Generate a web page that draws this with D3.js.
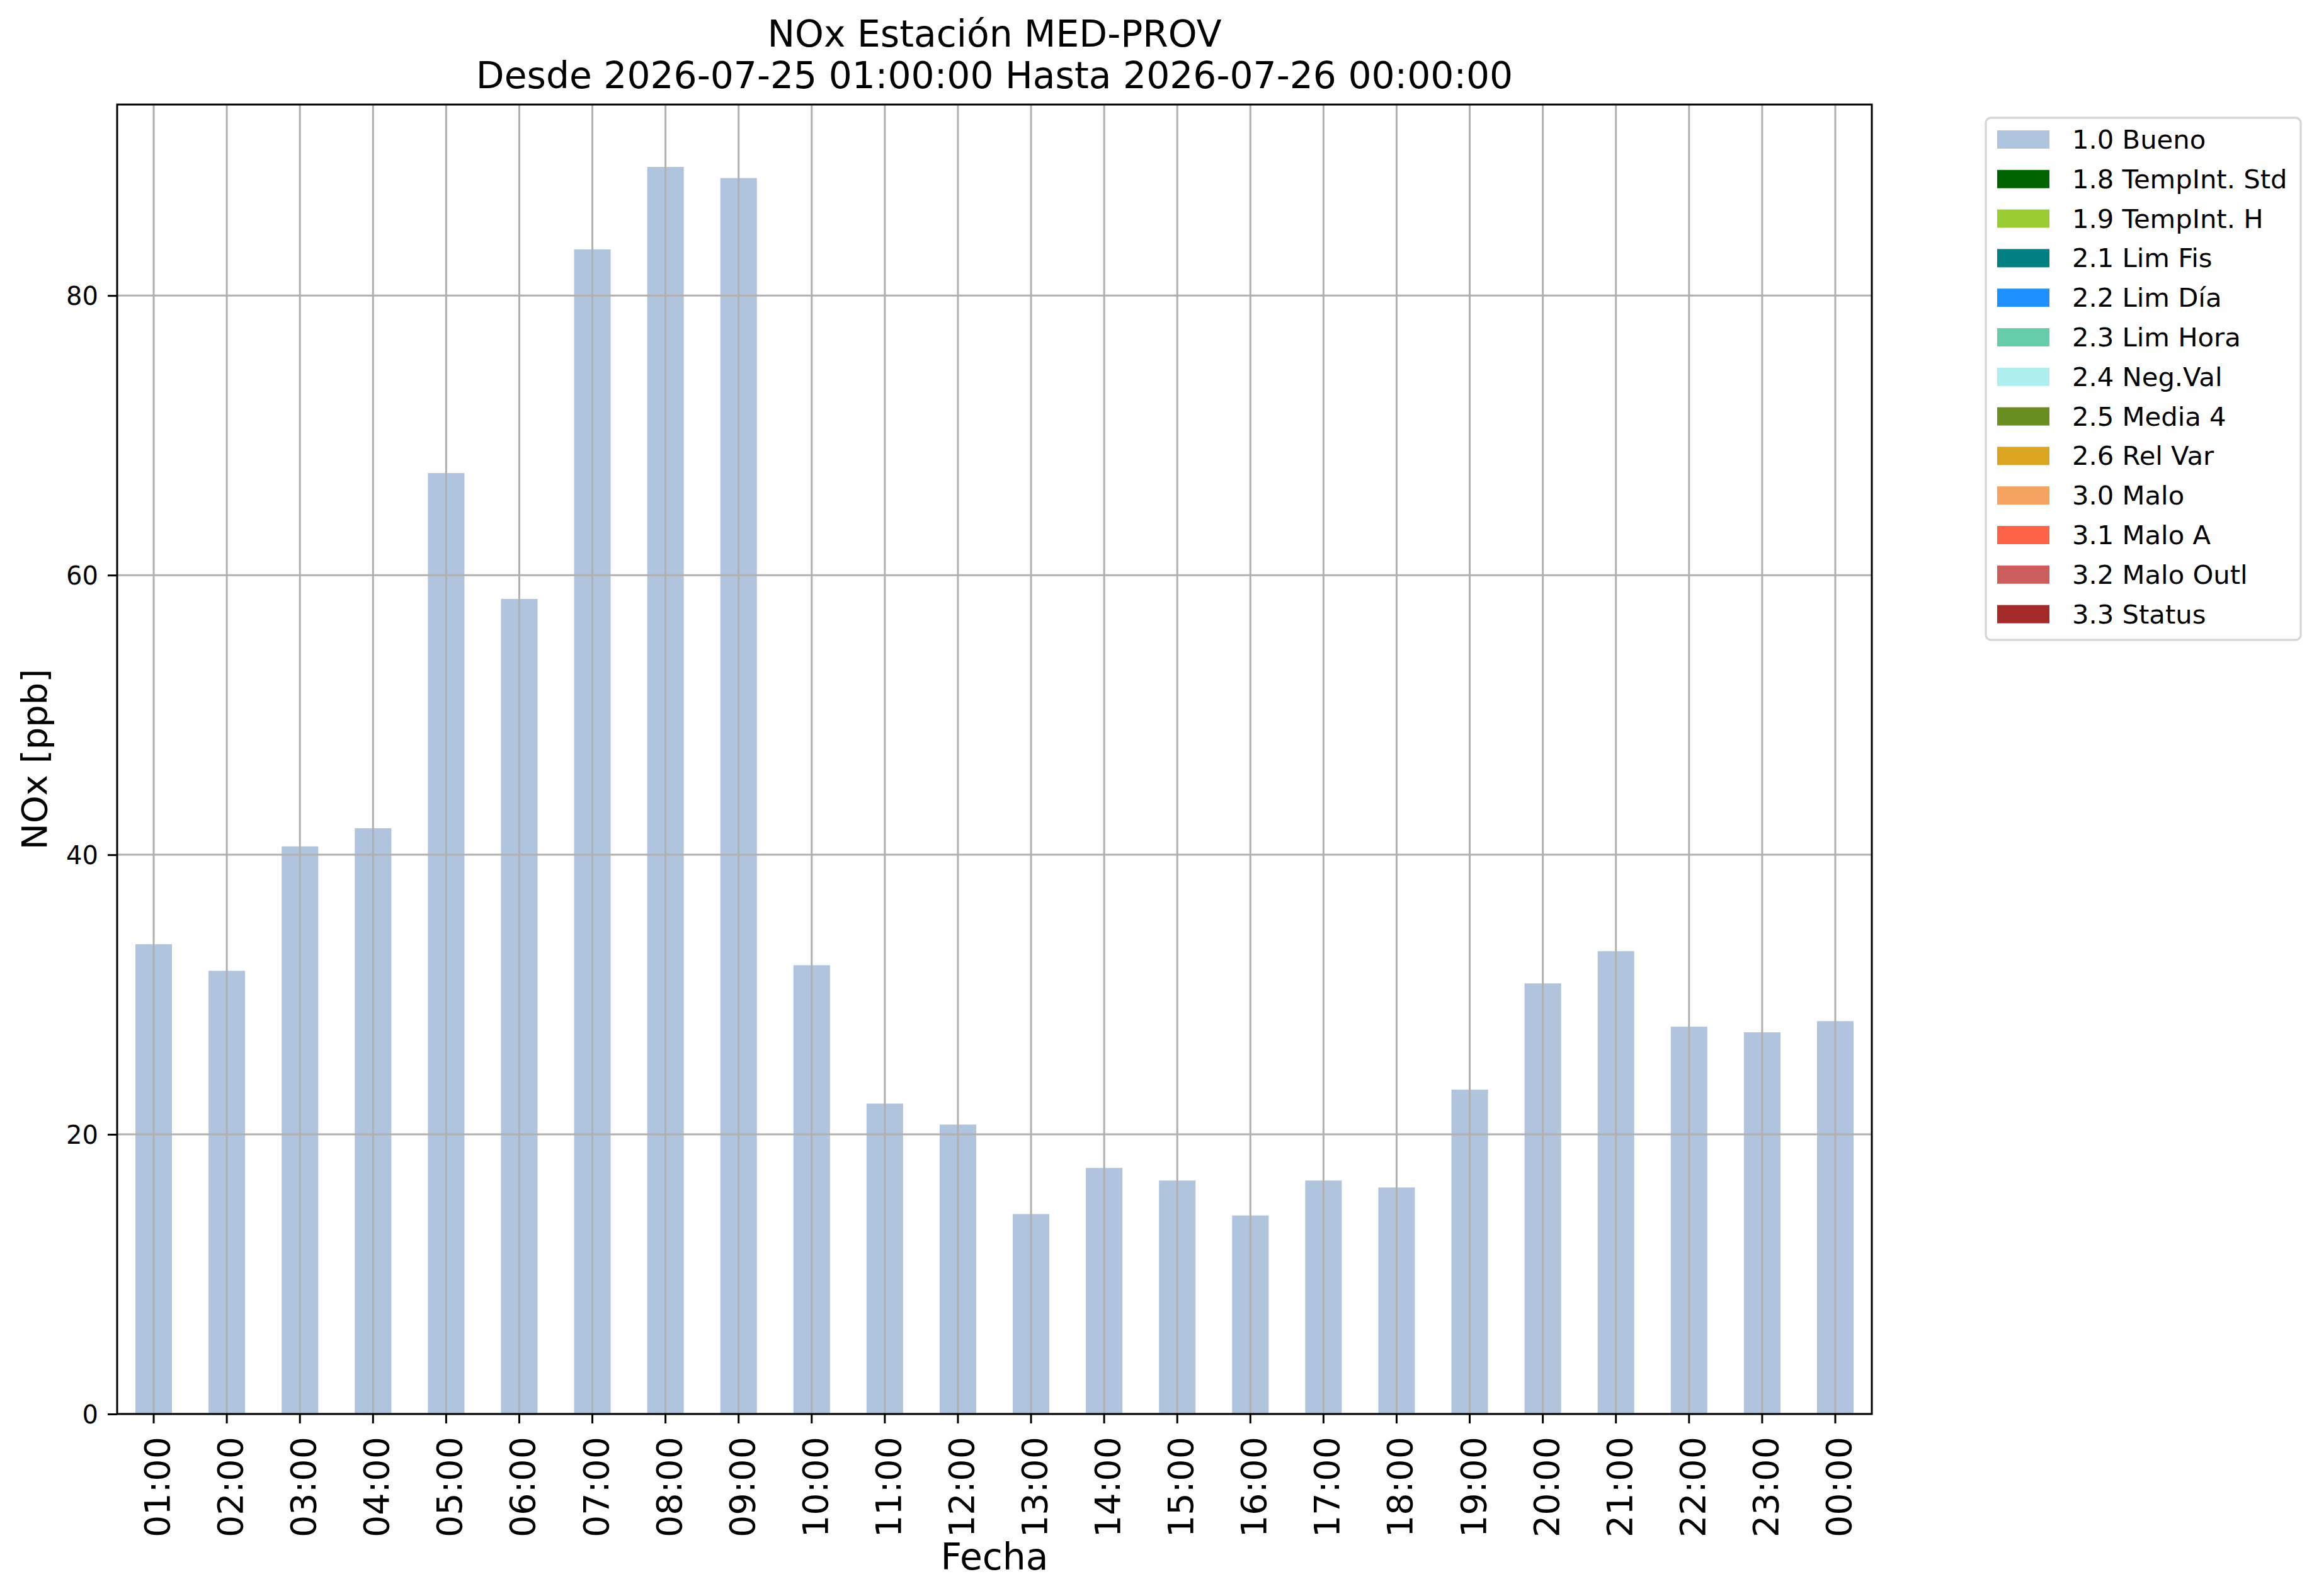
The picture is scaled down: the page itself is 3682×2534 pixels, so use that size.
<!DOCTYPE html>
<html>
<head>
<meta charset="utf-8">
<script src="https://cdn.jsdelivr.net/npm/d3@7"></script>
<style>
  body { margin: 0; background: #fff; }
  text { font-family: "DejaVu Sans", sans-serif; fill: #000; }
</style>
</head>
<body>
<svg id="chart"></svg>
<script>
// hourly NOx values, 2026-07-25 01:00 .. 2026-07-26 00:00
var horas = ["01:00","02:00","03:00","04:00","05:00","06:00","07:00","08:00","09:00","10:00","11:00","12:00",
             "13:00","14:00","15:00","16:00","17:00","18:00","19:00","20:00","21:00","22:00","23:00","00:00"]
var nox = [33.6, 31.7, 40.6, 41.9, 67.3, 58.3, 83.3, 89.2, 88.4, 32.1, 22.2, 20.7,
           14.3, 17.6, 16.7, 14.2, 16.7, 16.2, 23.2, 30.8, 33.1, 27.7, 27.3, 28.1]
var yTicks = [0, 20, 40, 60, 80]

var flagLabels = ["1.0 Bueno","1.8 TempInt. Std","1.9 TempInt. H","2.1 Lim Fis","2.2 Lim Día","2.3 Lim Hora",
                  "2.4 Neg.Val","2.5 Media 4","2.6 Rel Var","3.0 Malo","3.1 Malo A","3.2 Malo Outl","3.3 Status"]
var flagColors = ["#b0c4de","#006400","#9acd32","#008080","#1e90ff","#66cdaa",
                  "#afeeee","#6b8e23","#daa520","#f4a460","#ff6347","#cd5c5c","#a52a2a"]

var W = 3682, H = 2534
var big = 58.3, small = 41.7
var dimensions = {
    margin: { top: 166, bottom: 289, left: 186, right: 710 }
}
var x0 = dimensions.margin.left, x1 = W - dimensions.margin.right
var y0 = H - dimensions.margin.bottom, y1 = dimensions.margin.top

var svg = d3.select("#chart")
    .attr("width", W)
    .attr("height", H)

svg.append("rect").attr("width", W).attr("height", H).attr("fill", "#fff")

var x = d3.scaleBand()
    .domain(horas)
    .range([x0, x1])
    .paddingInner(0.5)
    .paddingOuter(0.25)

var y = d3.scaleLinear()
    .domain([0, d3.max(nox) * 1.05])
    .range([y0, y1])

// bars
svg.append("g")
    .selectAll("rect")
    .data(nox)
    .enter()
    .append("rect")
        .attr("x", function(d, i){ return x(horas[i]) })
        .attr("width", x.bandwidth())
        .attr("y", function(d){ return y(d) })
        .attr("height", function(d){ return y(0) - y(d) })
        .attr("fill", flagColors[0])

// grid on top of bars (like matplotlib here)
var grid = svg.append("g").attr("stroke", "#b0b0b0").attr("stroke-width", 3)
grid.selectAll(".gx").data(horas).enter().append("line")
    .attr("x1", function(d){ return x(d) + x.bandwidth()/2 })
    .attr("x2", function(d){ return x(d) + x.bandwidth()/2 })
    .attr("y1", y0).attr("y2", y1)
grid.selectAll(".gy").data(yTicks).enter().append("line")
    .attr("x1", x0).attr("x2", x1)
    .attr("y1", function(d){ return y(d) }).attr("y2", function(d){ return y(d) })

// axes
var xAxis = svg.append("g")
    .attr("transform", "translate(0," + y0 + ")")
    .call(d3.axisBottom(x).tickSize(15).tickSizeOuter(0).tickPadding(0))
xAxis.select(".domain").remove()
xAxis.selectAll(".tick line").attr("stroke", "#000").attr("stroke-width", 3)
xAxis.selectAll(".tick text")
    .attr("font-size", 55.5)
    .attr("text-anchor", "end")
    .attr("transform", "translate(0,36) rotate(-90)")
    .attr("x", 0)
    .attr("y", 0)
    .attr("dy", 25)

var yAxis = svg.append("g")
    .attr("transform", "translate(" + x0 + ",0)")
    .call(d3.axisLeft(y).tickValues(yTicks).tickSize(15).tickSizeOuter(0).tickPadding(15))
yAxis.select(".domain").remove()
yAxis.selectAll(".tick line").attr("stroke", "#000").attr("stroke-width", 3)
yAxis.selectAll(".tick text")
    .attr("font-size", 40)
    .attr("dy", "0.36em")

// frame
svg.append("rect")
    .attr("x", x0).attr("y", y1)
    .attr("width", x1 - x0).attr("height", y0 - y1)
    .attr("fill", "none").attr("stroke", "#000").attr("stroke-width", 3)

// titles
var cx = (x0 + x1) / 2
svg.append("text").attr("x", cx).attr("y", 74).attr("text-anchor", "middle")
    .attr("font-size", big).text("NOx Estación MED-PROV")
svg.append("text").attr("x", cx).attr("y", 140).attr("text-anchor", "middle")
    .attr("font-size", big).text("Desde 2026-07-25 01:00:00 Hasta 2026-07-26 00:00:00")
svg.append("text").attr("x", cx).attr("y", 2492).attr("text-anchor", "middle")
    .attr("font-size", big).text("Fecha")
svg.append("text")
    .attr("transform", "translate(74," + ((y0 + y1) / 2) + ") rotate(-90)")
    .attr("text-anchor", "middle")
    .attr("font-size", 56).text("NOx [ppb]")

// legend
var lg = svg.append("g").attr("transform", "translate(3153,187)")
lg.append("rect")
    .attr("width", 500).attr("height", 829)
    .attr("rx", 8).attr("ry", 8)
    .attr("fill", "#fff").attr("stroke", "#d6d6d6").attr("stroke-width", 3.3)
var item = lg.selectAll(".item").data(flagLabels).enter().append("g")
    .attr("transform", function(d, i){ return "translate(0," + (20 + i * 62.8) + ")" })
item.append("rect")
    .attr("x", 18).attr("width", 83).attr("height", 29)
    .attr("fill", function(d, i){ return flagColors[i] })
item.append("text")
    .attr("x", 137).attr("y", 29)
    .attr("font-size", small)
    .text(function(d){ return d })
</script>
</body>
</html>
